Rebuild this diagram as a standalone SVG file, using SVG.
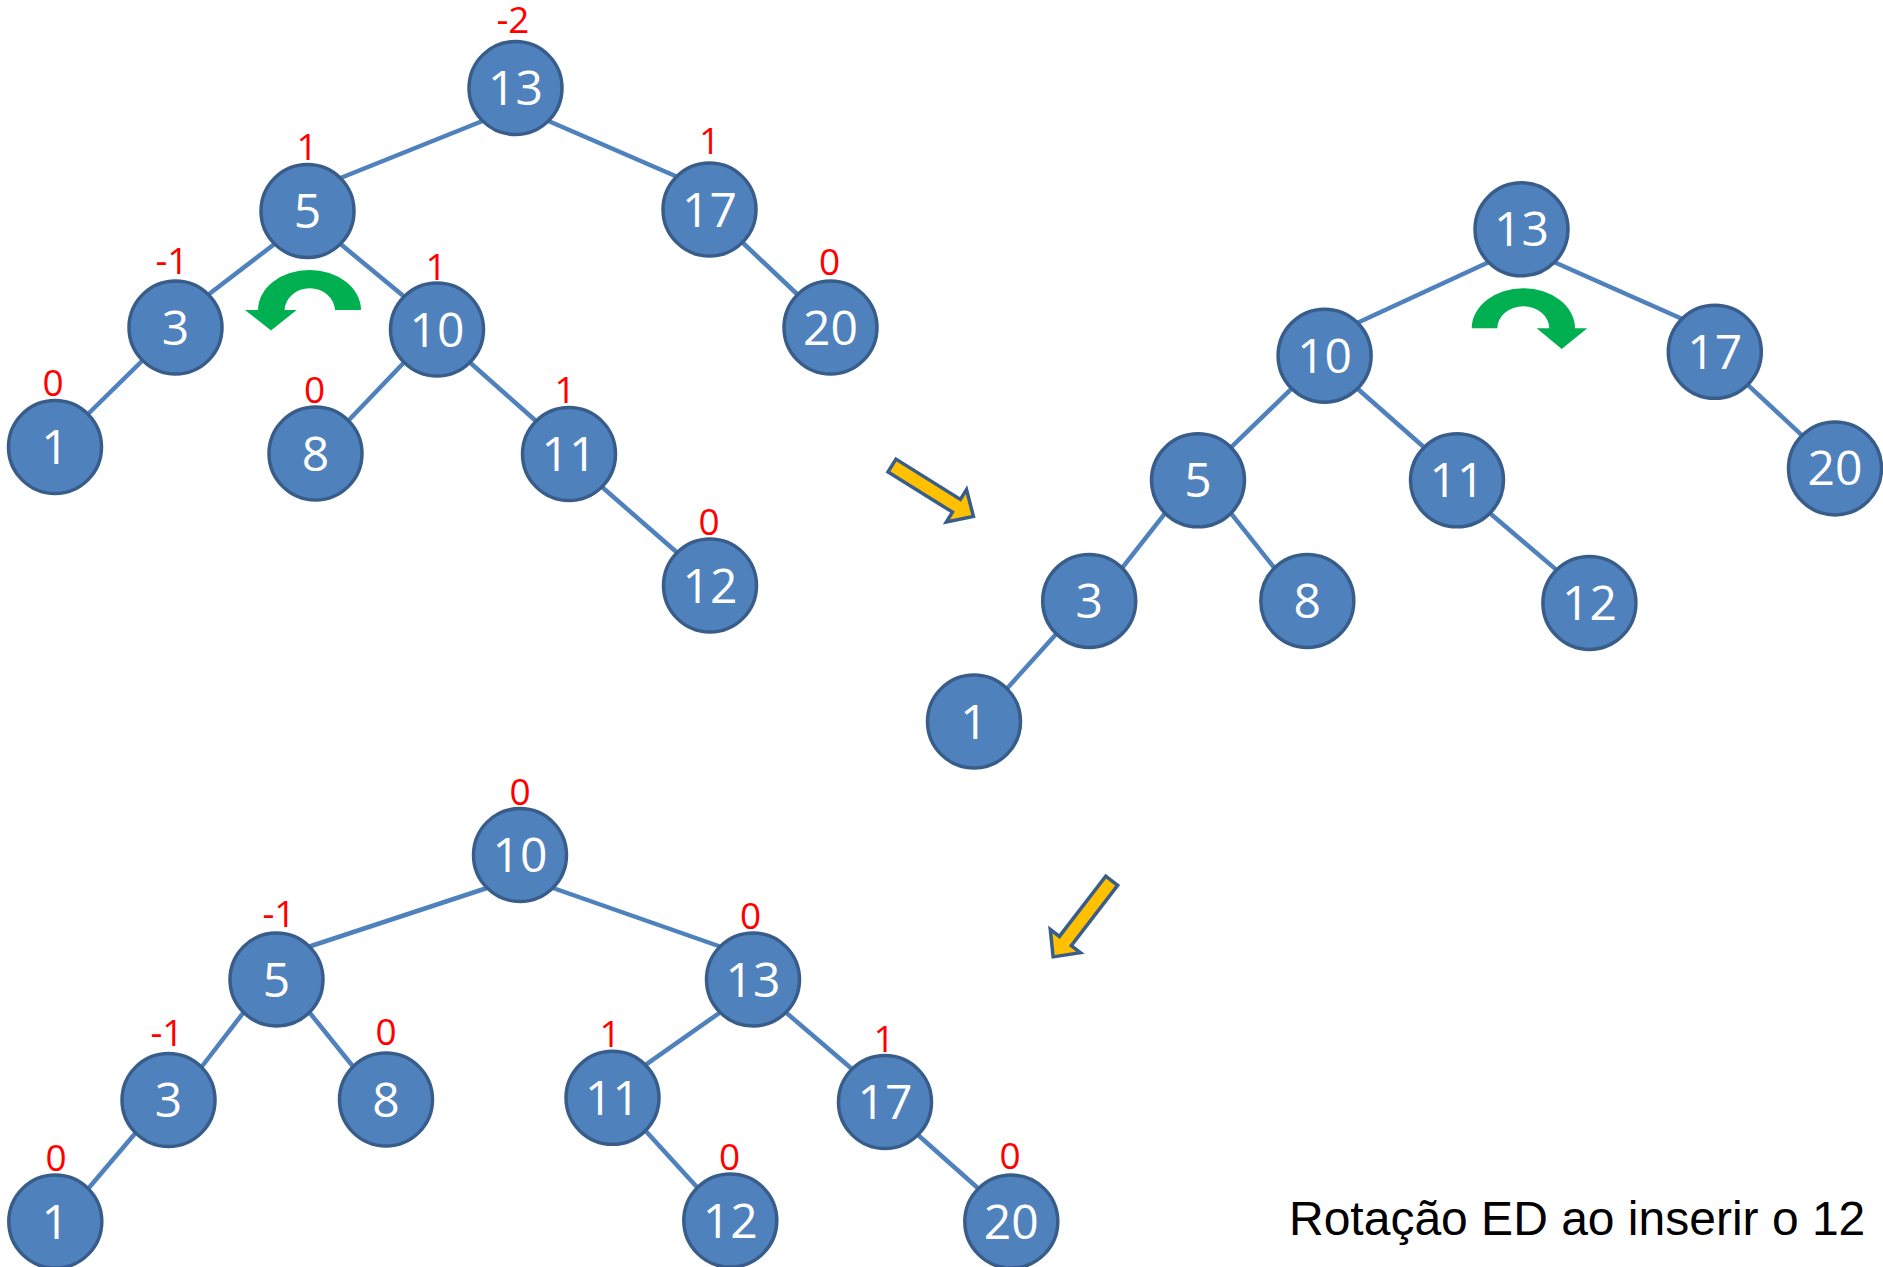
<svg xmlns="http://www.w3.org/2000/svg" width="1883" height="1267" viewBox="0 0 1883 1267">
<style>
.bg{fill:#FFFFFF}
.e{stroke:#4F81BD;stroke-width:4.5;fill:none}
.n circle{fill:#4F81BD;stroke:#385D8A;stroke-width:3.5}
.n text{fill:#FFFFFF;font-family:"Open Sans","Noto Sans",sans-serif;font-size:48px;text-anchor:middle}
.b{fill:#FF0000;font-family:"Open Sans","Noto Sans",sans-serif;font-size:37px;text-anchor:middle}
.rot{fill:#00B050}
.ya{fill:#FFC000;stroke:#385D8A;stroke-width:3.5;stroke-linejoin:miter}
.cap{fill:#000000;font-family:"Liberation Sans",Arial,sans-serif;font-size:48px}
</style>
<defs>
<path id="yarrow" d="M0,-7.5 L76,-7.5 L76,-19 L96,0 L76,19 L76,7.5 L0,7.5 Z"/>
</defs>
<rect class="bg" x="0" y="0" width="1883" height="1267"/>

<g id="connectors">
<line class="e" x1="482.5" y1="121" x2="340.5" y2="178"/>
<line class="e" x1="548.5" y1="121" x2="676.5" y2="176.5"/>
<line class="e" x1="274.5" y1="244" x2="208.5" y2="294.5"/>
<line class="e" x1="340.5" y1="244" x2="404" y2="296.5"/>
<line class="e" x1="742.5" y1="242.5" x2="797.5" y2="294.5"/>
<line class="e" x1="142.5" y1="360.5" x2="88" y2="414"/>
<line class="e" x1="404" y1="362.5" x2="348.5" y2="420.5"/>
<line class="e" x1="470" y1="362.5" x2="536" y2="421"/>
<line class="e" x1="602" y1="487" x2="677" y2="552.5"/>
<line class="e" x1="1488.5" y1="262.3" x2="1357.6" y2="322.7"/>
<line class="e" x1="1554.5" y1="262.3" x2="1681.8" y2="318.8"/>
<line class="e" x1="1291.6" y1="388.7" x2="1231" y2="447.3"/>
<line class="e" x1="1357.6" y1="388.7" x2="1424" y2="447.3"/>
<line class="e" x1="1747.8" y1="384.8" x2="1802" y2="435.4"/>
<line class="e" x1="1165" y1="513.3" x2="1122.2" y2="567.9"/>
<line class="e" x1="1231" y1="513.3" x2="1274.3" y2="567.9"/>
<line class="e" x1="1490" y1="513.3" x2="1556.4" y2="569.9"/>
<line class="e" x1="1056.2" y1="633.9" x2="1007" y2="688.5"/>
<line class="e" x1="487" y1="888" x2="309.5" y2="946.5"/>
<line class="e" x1="553" y1="888" x2="720" y2="946.5"/>
<line class="e" x1="243.5" y1="1012.5" x2="201.5" y2="1067"/>
<line class="e" x1="309.5" y1="1012.5" x2="353" y2="1066.5"/>
<line class="e" x1="720" y1="1012.5" x2="645.5" y2="1064.8"/>
<line class="e" x1="786" y1="1012.5" x2="852" y2="1069"/>
<line class="e" x1="135.5" y1="1133" x2="88.3" y2="1188.5"/>
<line class="e" x1="645.5" y1="1130.8" x2="697.3" y2="1187.5"/>
<line class="e" x1="918" y1="1135" x2="978.3" y2="1188.5"/>
</g>

<g id="t1-13" class="n"><circle cx="515.5" cy="88" r="46.5"/><text x="515.5" y="105">13</text></g>
<g id="t1-5" class="n"><circle cx="307.5" cy="211" r="46.5"/><text x="307.5" y="228">5</text></g>
<g id="t1-17" class="n"><circle cx="709.5" cy="209.5" r="46.5"/><text x="709.5" y="226.5">17</text></g>
<g id="t1-3" class="n"><circle cx="175.5" cy="327.5" r="46.5"/><text x="175.5" y="344.5">3</text></g>
<g id="t1-10" class="n"><circle cx="437" cy="329.5" r="46.5"/><text x="437" y="346.5">10</text></g>
<g id="t1-20" class="n"><circle cx="830.5" cy="327.5" r="46.5"/><text x="830.5" y="344.5">20</text></g>
<g id="t1-1" class="n"><circle cx="55" cy="447" r="46.5"/><text x="55" y="464">1</text></g>
<g id="t1-8" class="n"><circle cx="315.5" cy="453.5" r="46.5"/><text x="315.5" y="470.5">8</text></g>
<g id="t1-11" class="n"><circle cx="569" cy="454" r="46.5"/><text x="569" y="471">11</text></g>
<g id="t1-12" class="n"><circle cx="710" cy="585.5" r="46.5"/><text x="710" y="602.5">12</text></g>

<g id="t1-balance">
<text class="b" x="513" y="33">-2</text>
<text class="b" x="307" y="160">1</text>
<text class="b" x="709.5" y="154">1</text>
<text class="b" x="172" y="273.5">-1</text>
<text class="b" x="436" y="280">1</text>
<text class="b" x="829.5" y="274.5">0</text>
<text class="b" x="53" y="396">0</text>
<text class="b" x="314.5" y="403">0</text>
<text class="b" x="565" y="403">1</text>
<text class="b" x="709" y="535">0</text>
</g>

<g id="rot-left">
<path class="rot" d="M361,310 A51.5,40 0 0 0 258,310 L245,310 L271,330.5 L296.7,310 L284.5,310 A25.3,23.3 0 0 1 335,310 Z"/>
</g>

<g id="t2-13" class="n"><circle cx="1521.5" cy="229.3" r="46.5"/><text x="1521.5" y="246.3">13</text></g>
<g id="t2-10" class="n"><circle cx="1324.6" cy="355.7" r="46.5"/><text x="1324.6" y="372.7">10</text></g>
<g id="t2-17" class="n"><circle cx="1714.8" cy="351.8" r="46.5"/><text x="1714.8" y="368.8">17</text></g>
<g id="t2-5" class="n"><circle cx="1198" cy="480.3" r="46.5"/><text x="1198" y="497.3">5</text></g>
<g id="t2-11" class="n"><circle cx="1457" cy="480.3" r="46.5"/><text x="1457" y="497.3">11</text></g>
<g id="t2-20" class="n"><circle cx="1835" cy="468.4" r="46.5"/><text x="1835" y="485.4">20</text></g>
<g id="t2-3" class="n"><circle cx="1089.2" cy="600.9" r="46.5"/><text x="1089.2" y="617.9">3</text></g>
<g id="t2-8" class="n"><circle cx="1307.3" cy="600.9" r="46.5"/><text x="1307.3" y="617.9">8</text></g>
<g id="t2-12" class="n"><circle cx="1589.4" cy="602.9" r="46.5"/><text x="1589.4" y="619.9">12</text></g>
<g id="t2-1" class="n"><circle cx="974" cy="721.5" r="46.5"/><text x="974" y="738.5">1</text></g>

<g id="rot-right">
<path class="rot" d="M1471.7,328.3 A51.65,40 0 0 1 1575,328.3 L1587.3,328.3 L1561.7,349 L1536.7,328.3 L1549.3,328.3 A26,22 0 0 0 1497.3,328.3 Z"/>
</g>

<g id="arrow-1"><use href="#yarrow" class="ya" transform="translate(892,465.5) rotate(32)"/></g>
<g id="arrow-2"><use href="#yarrow" class="ya" transform="translate(1111.7,880.8) rotate(127.6)"/></g>

<g id="t3-10" class="n"><circle cx="520" cy="855" r="46.5"/><text x="520" y="872">10</text></g>
<g id="t3-5" class="n"><circle cx="276.5" cy="979.5" r="46.5"/><text x="276.5" y="996.5">5</text></g>
<g id="t3-13" class="n"><circle cx="753" cy="979.5" r="46.5"/><text x="753" y="996.5">13</text></g>
<g id="t3-3" class="n"><circle cx="168.5" cy="1100" r="46.5"/><text x="168.5" y="1117">3</text></g>
<g id="t3-8" class="n"><circle cx="386" cy="1099.5" r="46.5"/><text x="386" y="1116.5">8</text></g>
<g id="t3-11" class="n"><circle cx="612.5" cy="1097.8" r="46.5"/><text x="612.5" y="1114.8">11</text></g>
<g id="t3-17" class="n"><circle cx="885" cy="1102" r="46.5"/><text x="885" y="1119">17</text></g>
<g id="t3-1" class="n"><circle cx="55.3" cy="1221.5" r="46.5"/><text x="55.3" y="1238.5">1</text></g>
<g id="t3-12" class="n"><circle cx="730.3" cy="1220.5" r="46.5"/><text x="730.3" y="1237.5">12</text></g>
<g id="t3-20" class="n"><circle cx="1011.3" cy="1221.5" r="46.5"/><text x="1011.3" y="1238.5">20</text></g>

<g id="t3-balance">
<text class="b" x="520" y="805">0</text>
<text class="b" x="279" y="927">-1</text>
<text class="b" x="750.5" y="929">0</text>
<text class="b" x="167" y="1046">-1</text>
<text class="b" x="386" y="1045">0</text>
<text class="b" x="610" y="1047">1</text>
<text class="b" x="884" y="1052">1</text>
<text class="b" x="56" y="1170.5">0</text>
<text class="b" x="729.5" y="1169.5">0</text>
<text class="b" x="1010" y="1168.5">0</text>
</g>

<g id="caption"><text class="cap" x="1289" y="1235">Rotação ED ao inserir o 12</text></g>
</svg>
